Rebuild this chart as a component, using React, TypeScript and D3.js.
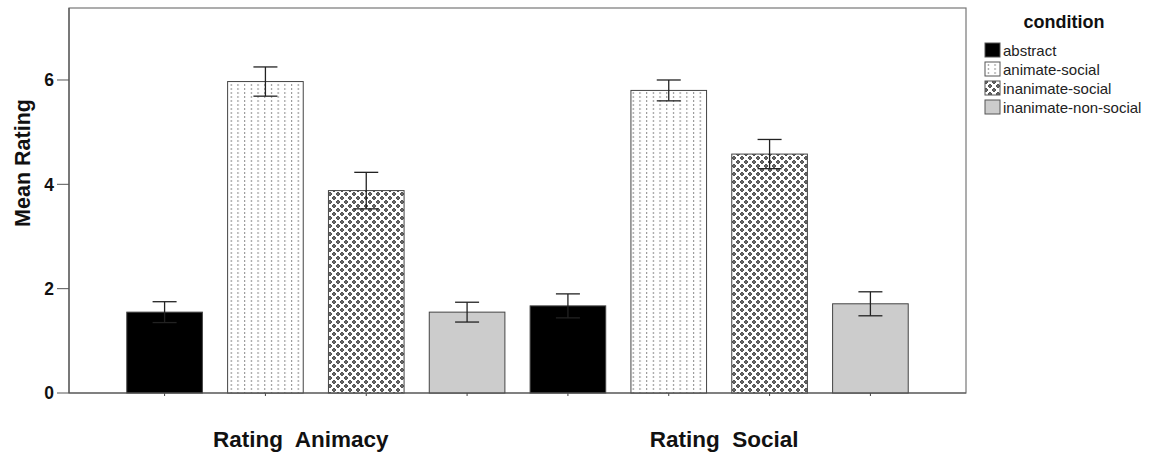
import React from "react";
import * as d3 from "d3";

// Rating dimensions (x-axis clusters) and experimental conditions (bars in each cluster)
const groups = ["Rating  Animacy", "Rating  Social"];
const conditions = ["abstract", "animate-social", "inanimate-social", "inanimate-non-social"];

// Mean ratings per condition, one array per rating dimension
const animacyMeans = [1.55, 5.97, 3.88, 1.55];
const socialMeans = [1.67, 5.80, 4.58, 1.71];

// Half-width of the error bars (distance of each whisker from the mean)
const animacyErr = [0.2, 0.28, 0.35, 0.19];
const socialErr = [0.23, 0.2, 0.28, 0.23];

const yTicks = [0, 2, 4, 6];

const W = 1149;
const H = 454;
const plot = { left: 69, right: 966, top: 8, bottom: 393 };
const FONT = "'Liberation Sans', Arial, Helvetica, sans-serif";
// horizontal nudge of each cluster label relative to its cluster centre
const groupLabelShift = [-15, 5];

const fills: Record<string, string> = {
  "abstract": "#000000",
  "animate-social": "url(#patDots)",
  "inanimate-social": "url(#patPlus)",
  "inanimate-non-social": "#cccccc",
};

export default function App() {
  const x0 = d3
    .scaleBand<string>()
    .domain(groups)
    .range([plot.left, plot.right])
    .paddingInner(0)
    .paddingOuter(0.112);
  const x1 = d3
    .scaleBand<string>()
    .domain(conditions)
    .range([0, x0.bandwidth()])
    .paddingInner(0.25)
    .paddingOuter(0.125);
  const y = d3.scaleLinear().domain([0, 7.38]).range([plot.bottom, plot.top]);

  const rows = groups.flatMap((g, gi) =>
    conditions.map((c, ci) => ({
      g,
      c,
      v: gi === 0 ? animacyMeans[ci] : socialMeans[ci],
      e: gi === 0 ? animacyErr[ci] : socialErr[ci],
    }))
  );

  const capHalf = 12;

  return (
    <svg width={W} height={H} style={{ display: "block", position: "absolute", left: 0, top: 0 }}>
      <defs>
        <pattern id="patDots" patternUnits="userSpaceOnUse" width="6.7" height="4">
          <rect width="6.7" height="4" fill="#ffffff" />
          <rect x="3" y="0" width="1" height="2" fill="#8a8a8a" />
        </pattern>
        <pattern id="patPlus" patternUnits="userSpaceOnUse" width="8" height="8">
          <rect width="8" height="8" fill="#ffffff" />
          <path d="M1,0h2v1h1v2h-1v1h-2v-1h-1v-2h1z" fill="#555" />
          <path d="M5,4h2v1h1v2h-1v1h-2v-1h-1v-2h1z" fill="#555" />
          <rect x="1.5" y="1.5" width="1" height="1" fill="#999" />
          <rect x="5.5" y="5.5" width="1" height="1" fill="#999" />
        </pattern>
      </defs>
      <rect width={W} height={H} fill="#ffffff" />

      {/* plot frame */}
      <rect
        x={plot.left}
        y={plot.top}
        width={plot.right - plot.left}
        height={plot.bottom - plot.top}
        fill="none"
        stroke="#777"
        strokeWidth={1.2}
      />

      {/* bars with error bars */}
      {rows.map((r, i) => {
        const bx = (x0(r.g) ?? 0) + (x1(r.c) ?? 0);
        const bw = x1.bandwidth();
        const cx = bx + bw / 2;
        return (
          <g key={i}>
            <rect
              x={bx}
              y={y(r.v)}
              width={bw}
              height={y(0) - y(r.v)}
              fill={fills[r.c]}
              stroke="#444"
              strokeWidth={1}
            />
            <line x1={cx} x2={cx} y1={plot.bottom} y2={plot.bottom + 3} stroke="#444" strokeWidth={1} />
            <g stroke="#222" strokeWidth={1.3}>
              <line x1={cx} x2={cx} y1={y(r.v + r.e)} y2={y(r.v - r.e)} />
              <line x1={cx - capHalf} x2={cx + capHalf} y1={y(r.v + r.e)} y2={y(r.v + r.e)} />
              <line x1={cx - capHalf} x2={cx + capHalf} y1={y(r.v - r.e)} y2={y(r.v - r.e)} />
            </g>
          </g>
        );
      })}

      {/* axis lines */}
      <line x1={plot.left} x2={plot.left} y1={plot.top} y2={plot.bottom} stroke="#555" strokeWidth={1.2} />
      <line x1={plot.left} x2={plot.right} y1={plot.bottom} y2={plot.bottom} stroke="#555" strokeWidth={1.2} />

      {/* y ticks */}
      {yTicks.map((t) => (
        <g key={t}>
          <line x1={plot.left - 12} x2={plot.left} y1={y(t)} y2={y(t)} stroke="#555" strokeWidth={1} />
          <text
            x={plot.left - 15}
            y={y(t)}
            dy="0.36em"
            textAnchor="end"
            fontFamily={FONT}
            fontWeight="bold"
            fontSize={17.5}
            fill="#111"
          >
            {t}
          </text>
        </g>
      ))}

      {/* y axis title */}
      <text
        transform="translate(30, 163) rotate(-90)"
        textAnchor="middle"
        fontFamily={FONT}
        fontWeight="bold"
        fontSize={21.5}
        fill="#111"
      >
        Mean Rating
      </text>

      {/* x category labels */}
      {groups.map((g, gi) => (
        <text
          key={g}
          x={(x0(g) ?? 0) + x0.bandwidth() / 2 + groupLabelShift[gi]}
          y={447}
          textAnchor="middle"
          fontFamily={FONT}
          fontWeight="bold"
          fontSize={22.5}
          fill="#111"
          style={{ whiteSpace: "pre" }}
        >
          {g}
        </text>
      ))}

      {/* legend */}
      <text x={1064} y={28} textAnchor="middle" fontFamily={FONT} fontWeight="bold" fontSize={18} fill="#111">
        condition
      </text>
      {conditions.map((c, i) => {
        const base = 56 + i * 19;
        return (
          <g key={c}>
            <rect x={985} y={base - 13} width={15} height={14} fill={fills[c]} stroke="#555" strokeWidth={1} />
            <text x={1003} y={base} fontFamily={FONT} fontSize={15} fill="#222">
              {c}
            </text>
          </g>
        );
      })}
    </svg>
  );
}
